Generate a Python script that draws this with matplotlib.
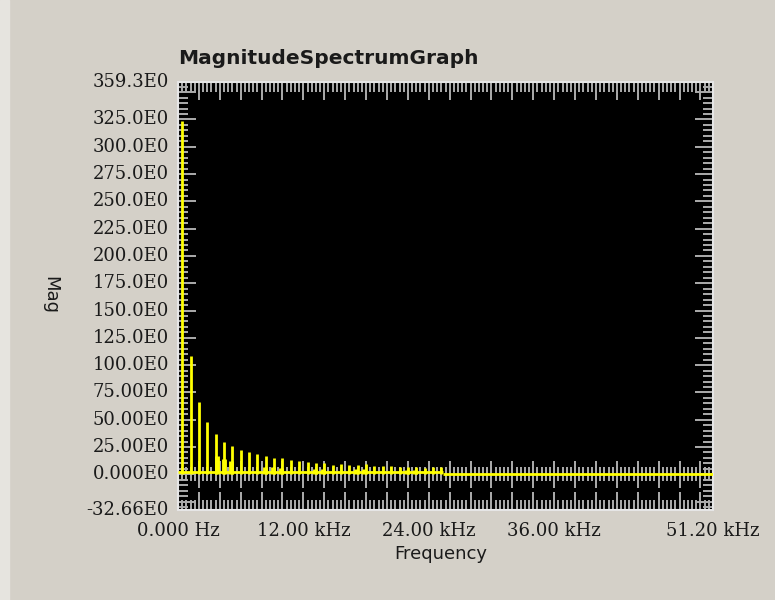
import numpy as np
import matplotlib
matplotlib.use("Agg")
import matplotlib.pyplot as plt
from matplotlib.ticker import MultipleLocator
from matplotlib.patches import Rectangle

# Odd harmonics of a 400 Hz square wave (kHz, magnitude)
harm_freqs = [0.4, 1.2, 2.0, 2.8, 3.6, 4.4, 5.2, 6.0, 6.8, 7.6, 8.4, 9.2, 10.0,
              10.8, 11.6, 12.4, 13.2, 14.0, 14.8, 15.6, 16.4, 17.2, 18.0, 18.8,
              19.6, 20.4, 21.2, 22.0, 22.8, 23.6, 24.4, 25.2]
harm_mags = [324, 108, 66, 48, 37, 30, 26, 22.5, 20.5, 18.5, 16.5, 15, 15,
             13.5, 12.5, 11, 10, 10.5, 9, 9.5, 9, 9, 9.5, 8,
             7.5, 7.5, 6.5, 6.5, 6.5, 6, 7, 6.5]

# Leakage bumps beside some harmonics
leak_freqs = [3.7, 4.45, 5.1, 8.3, 9.1, 9.9, 13.1, 13.9, 17.0, 17.8, 21.9, 22.7]
leak_mags = [17, 14, 12, 7, 6.5, 6, 5, 5, 4.5, 4.5, 4, 4]

# Noise floor: level per band (band edges in kHz)
floor_edges = [0.0, 25.4, 51.2]
floor_levels = [2.0, 0.0]

# Axis ranges and labels
x_range = (0.0, 51.2)
y_range = (-32.66, 359.3)
x_tick_vals = [0, 12, 24, 36, 51.2]
x_tick_text = ["0.000 Hz", "12.00 kHz", "24.00 kHz", "36.00 kHz", "51.20 kHz"]
y_tick_vals = [359.3, 325, 300, 275, 250, 225, 200, 175, 150, 125, 100, 75, 50, 25, 0, -32.66]
y_tick_text = ["359.3E0", "325.0E0", "300.0E0", "275.0E0", "250.0E0", "225.0E0",
               "200.0E0", "175.0E0", "150.0E0", "125.0E0", "100.0E0", "75.00E0",
               "50.00E0", "25.00E0", "0.000E0", "-32.66E0"]

BG = "#d4d0c8"
TICK = "#acacac"
YELLOW = "#ffff00"
TXT = "#1a1a1a"
W, H = 775, 600

fig = plt.figure(figsize=(W / 100, H / 100), dpi=100, facecolor=BG)
fig.patches.append(Rectangle((0, 0), 9 / W, 1, transform=fig.transFigure,
                             color="#e6e4df", zorder=0))

L, R, T, B = 178, 713, 82, 510
ax = fig.add_axes([L / W, 1 - B / H, (R - L) / W, (B - T) / H])
ax.set_facecolor("black")
ax.set_xlim(*x_range)
ax.set_ylim(*y_range)

# Ticks along the zero line
zx_minor = np.arange(0, 51.2, 0.4)
zx_major = np.arange(0, 51.2, 2.0)
ax.vlines(zx_minor, -6.5, 6.5, color=TICK, lw=1.4, zorder=1)
ax.vlines(zx_major, -12.5, 12.5, color=TICK, lw=1.4, zorder=1)

# Spectrum
for i, lvl in enumerate(floor_levels):
    ax.hlines(lvl, floor_edges[i], floor_edges[i + 1], color=YELLOW, lw=2.0, zorder=3)
ax.vlines(leak_freqs, 0, leak_mags, color=YELLOW, lw=3.5, zorder=3)
ax.vlines(harm_freqs, 0, harm_mags, color=YELLOW, lw=2.0, zorder=3)

# X ticks
xmaj = list(np.arange(0, 51, 2.0)) + [51.2]
xlab = []
for v in xmaj:
    match = [t for tv, t in zip(x_tick_vals, x_tick_text) if abs(tv - v) < 1e-6]
    xlab.append(match[0] if match else "")
ax.set_xticks(xmaj, xlab)
ax.xaxis.set_minor_locator(MultipleLocator(0.4))
ax.tick_params(axis="x", which="major", direction="in", length=13, width=1.4,
               color=TICK, top=True, bottom=True, pad=9, labelsize=13,
               labelcolor=TXT)
ax.tick_params(axis="x", which="minor", direction="in", length=7, width=1.4,
               color=TICK, top=True, bottom=True)
for lbl in ax.get_xticklabels():
    lbl.set_family("DejaVu Serif")

# Y ticks (labels drawn as text at their data positions)
ax.yaxis.set_major_locator(MultipleLocator(25))
ax.yaxis.set_minor_locator(MultipleLocator(5))
ax.tick_params(axis="y", which="major", direction="in", length=13, width=1.4,
               color=TICK, left=True, right=True, labelleft=False)
ax.tick_params(axis="y", which="minor", direction="in", length=7, width=1.4,
               color=TICK, left=True, right=True)
ytr = ax.get_yaxis_transform()
for v, t in zip(y_tick_vals, y_tick_text):
    ax.text(-0.017, v, t, transform=ytr, ha="right", va="center",
            family="DejaVu Serif", fontsize=13, color=TXT, clip_on=False)

for s in ax.spines.values():
    s.set_color("#e6e6e6")
    s.set_linewidth(1.5)

fig.text(L / W, 1 - 58 / H, "MagnitudeSpectrumGraph", ha="left", va="center",
         fontsize=14.5, fontweight="bold", color=TXT, family="DejaVu Sans")
fig.text(441 / W, 1 - 554 / H, "Frequency", ha="center", va="center",
         fontsize=13, color=TXT, family="DejaVu Sans")
fig.text(50 / W, 1 - 295 / H, "Mag", ha="center", va="center", rotation=270,
         fontsize=13, color=TXT, family="DejaVu Sans")

fig.savefig("out.png", dpi=100, facecolor=BG)
